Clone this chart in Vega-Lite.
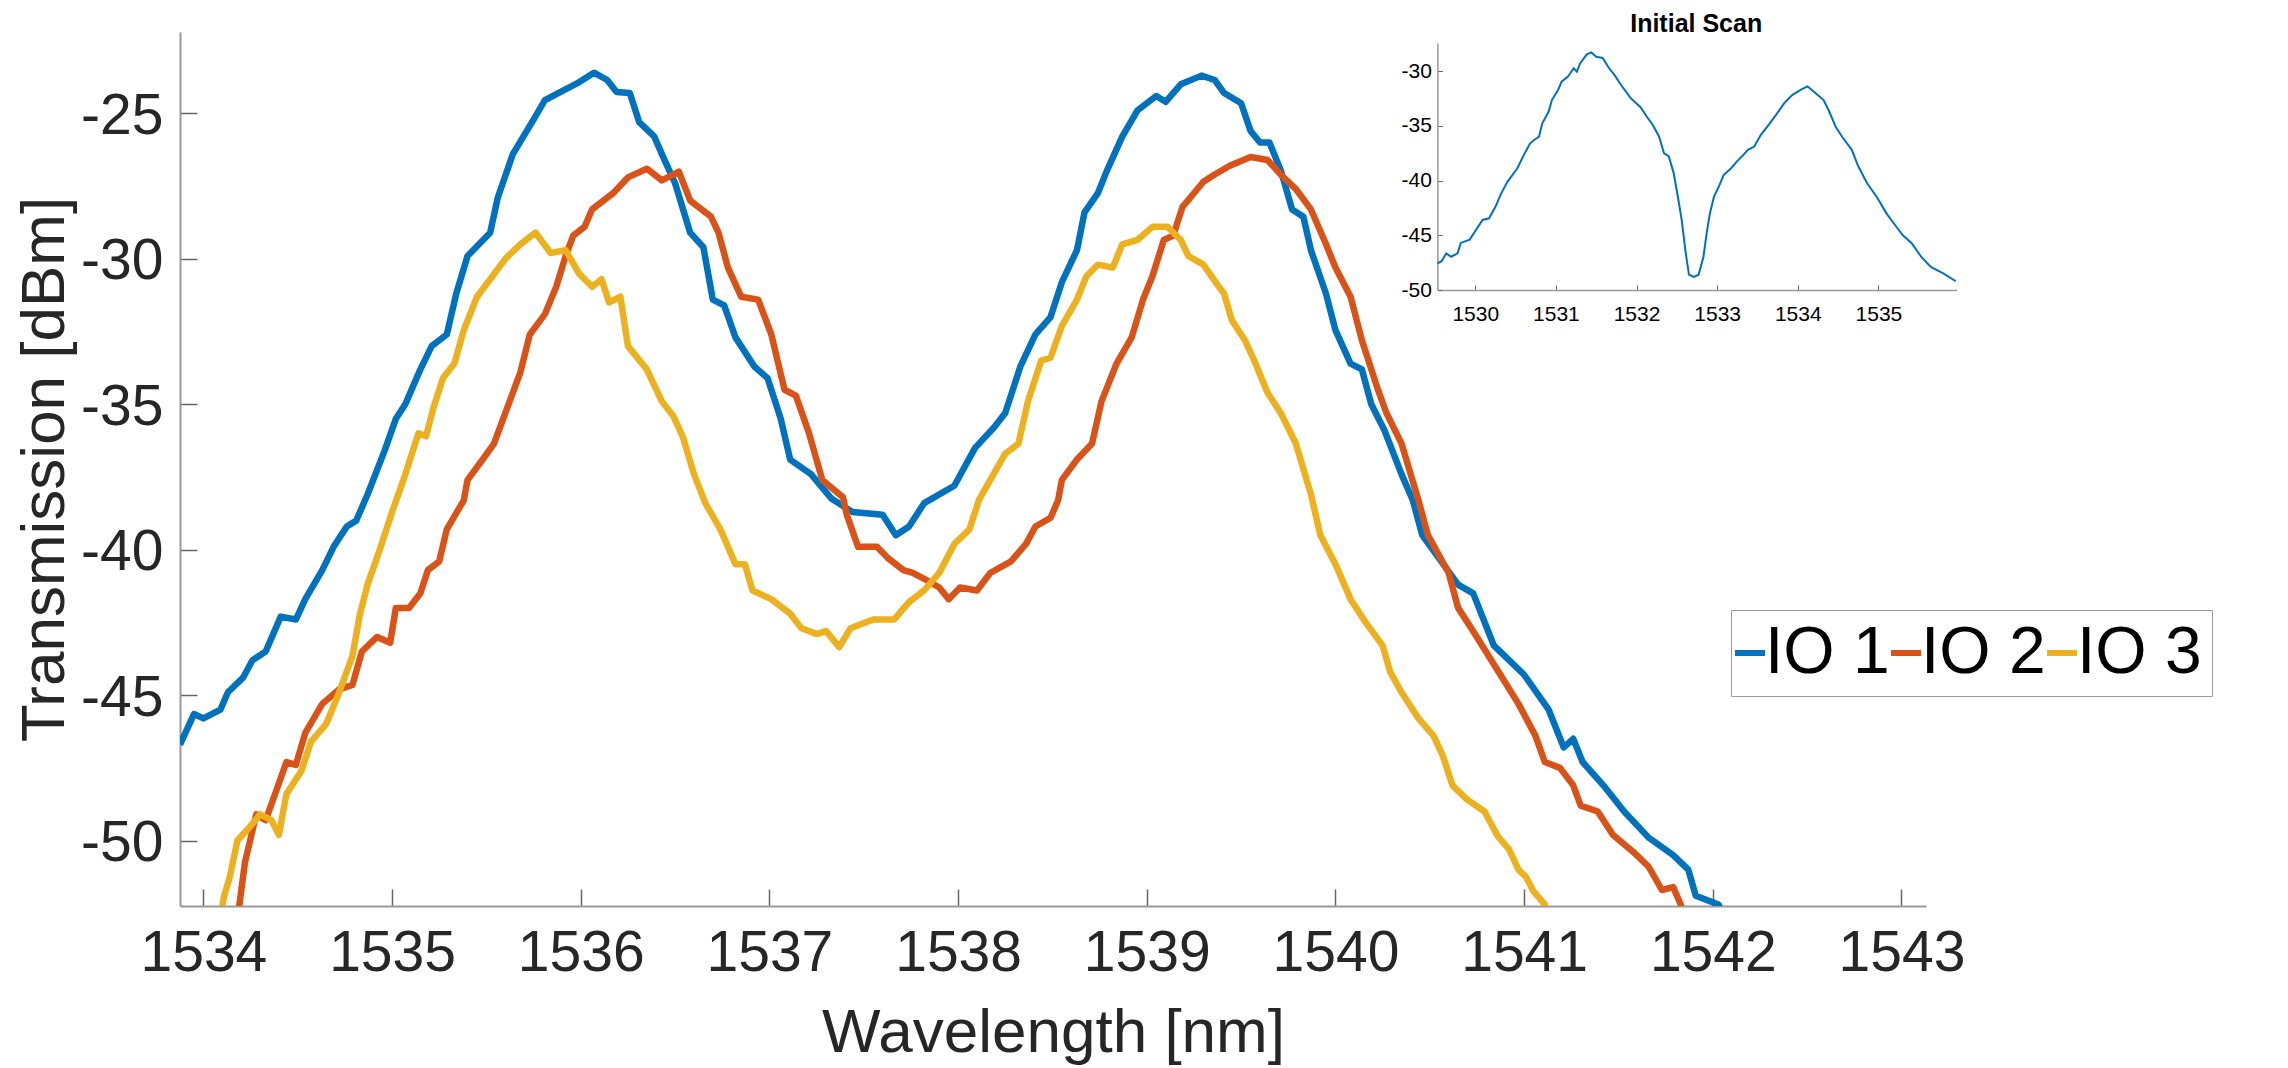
{
  "$schema": "https://vega.github.io/schema/vega-lite/v6.json",
  "width": 1746,
  "height": 874,
  "autosize": {"type": "none"},
  "padding": {"left": 180, "top": 32, "right": 362, "bottom": 162},
  "background": "white",
  "config": {"font": "Liberation Sans", "view": {"stroke": null}, "axis": {"grid": false}},
  "datasets": {
    "main": [
      {"s":"IO 1","wl":1533.876,"db":-46.7},{"s":"IO 1","wl":1533.95,"db":-45.65},{"s":"IO 1","wl":1534.0,"db":-45.8},{"s":"IO 1","wl":1534.09,"db":-45.5},{"s":"IO 1","wl":1534.13,"db":-44.9},{"s":"IO 1","wl":1534.21,"db":-44.4},{"s":"IO 1","wl":1534.26,"db":-43.8},{"s":"IO 1","wl":1534.33,"db":-43.5},{"s":"IO 1","wl":1534.41,"db":-42.3},{"s":"IO 1","wl":1534.49,"db":-42.4},{"s":"IO 1","wl":1534.54,"db":-41.7},{"s":"IO 1","wl":1534.63,"db":-40.7},{"s":"IO 1","wl":1534.69,"db":-39.9},{"s":"IO 1","wl":1534.76,"db":-39.2},{"s":"IO 1","wl":1534.81,"db":-39.0},{"s":"IO 1","wl":1534.87,"db":-38.1},{"s":"IO 1","wl":1534.96,"db":-36.6},{"s":"IO 1","wl":1535.02,"db":-35.5},{"s":"IO 1","wl":1535.07,"db":-35.0},{"s":"IO 1","wl":1535.15,"db":-33.8},{"s":"IO 1","wl":1535.21,"db":-33.0},{"s":"IO 1","wl":1535.29,"db":-32.6},{"s":"IO 1","wl":1535.34,"db":-31.2},{"s":"IO 1","wl":1535.40,"db":-29.9},{"s":"IO 1","wl":1535.52,"db":-29.1},{"s":"IO 1","wl":1535.56,"db":-27.9},{"s":"IO 1","wl":1535.64,"db":-26.4},{"s":"IO 1","wl":1535.76,"db":-25.1},{"s":"IO 1","wl":1535.81,"db":-24.54},{"s":"IO 1","wl":1535.98,"db":-23.97},{"s":"IO 1","wl":1536.07,"db":-23.6},{"s":"IO 1","wl":1536.14,"db":-23.85},{"s":"IO 1","wl":1536.19,"db":-24.26},{"s":"IO 1","wl":1536.26,"db":-24.3},{"s":"IO 1","wl":1536.31,"db":-25.3},{"s":"IO 1","wl":1536.39,"db":-25.8},{"s":"IO 1","wl":1536.43,"db":-26.4},{"s":"IO 1","wl":1536.50,"db":-27.4},{"s":"IO 1","wl":1536.58,"db":-29.1},{"s":"IO 1","wl":1536.65,"db":-29.6},{"s":"IO 1","wl":1536.70,"db":-31.4},{"s":"IO 1","wl":1536.76,"db":-31.6},{"s":"IO 1","wl":1536.82,"db":-32.7},{"s":"IO 1","wl":1536.92,"db":-33.7},{"s":"IO 1","wl":1536.99,"db":-34.1},{"s":"IO 1","wl":1537.06,"db":-35.5},{"s":"IO 1","wl":1537.11,"db":-36.9},{"s":"IO 1","wl":1537.22,"db":-37.4},{"s":"IO 1","wl":1537.33,"db":-38.25},{"s":"IO 1","wl":1537.44,"db":-38.7},{"s":"IO 1","wl":1537.60,"db":-38.8},{"s":"IO 1","wl":1537.67,"db":-39.5},{"s":"IO 1","wl":1537.74,"db":-39.2},{"s":"IO 1","wl":1537.82,"db":-38.4},{"s":"IO 1","wl":1537.98,"db":-37.8},{"s":"IO 1","wl":1538.09,"db":-36.5},{"s":"IO 1","wl":1538.19,"db":-35.8},{"s":"IO 1","wl":1538.25,"db":-35.3},{"s":"IO 1","wl":1538.33,"db":-33.7},{"s":"IO 1","wl":1538.41,"db":-32.6},{"s":"IO 1","wl":1538.49,"db":-32.0},{"s":"IO 1","wl":1538.55,"db":-30.8},{"s":"IO 1","wl":1538.63,"db":-29.7},{"s":"IO 1","wl":1538.67,"db":-28.4},{"s":"IO 1","wl":1538.74,"db":-27.75},{"s":"IO 1","wl":1538.79,"db":-26.95},{"s":"IO 1","wl":1538.87,"db":-25.8},{"s":"IO 1","wl":1538.95,"db":-24.9},{"s":"IO 1","wl":1539.05,"db":-24.4},{"s":"IO 1","wl":1539.10,"db":-24.6},{"s":"IO 1","wl":1539.18,"db":-24.0},{"s":"IO 1","wl":1539.29,"db":-23.7},{"s":"IO 1","wl":1539.36,"db":-23.85},{"s":"IO 1","wl":1539.41,"db":-24.3},{"s":"IO 1","wl":1539.50,"db":-24.65},{"s":"IO 1","wl":1539.55,"db":-25.6},{"s":"IO 1","wl":1539.60,"db":-26.0},{"s":"IO 1","wl":1539.65,"db":-26.0},{"s":"IO 1","wl":1539.71,"db":-26.95},{"s":"IO 1","wl":1539.77,"db":-28.3},{"s":"IO 1","wl":1539.83,"db":-28.55},{"s":"IO 1","wl":1539.87,"db":-29.7},{"s":"IO 1","wl":1539.95,"db":-31.2},{"s":"IO 1","wl":1540.00,"db":-32.45},{"s":"IO 1","wl":1540.08,"db":-33.6},{"s":"IO 1","wl":1540.14,"db":-33.8},{"s":"IO 1","wl":1540.19,"db":-35.0},{"s":"IO 1","wl":1540.26,"db":-35.9},{"s":"IO 1","wl":1540.35,"db":-37.4},{"s":"IO 1","wl":1540.41,"db":-38.3},{"s":"IO 1","wl":1540.46,"db":-39.5},{"s":"IO 1","wl":1540.65,"db":-41.2},{"s":"IO 1","wl":1540.73,"db":-41.5},{"s":"IO 1","wl":1540.84,"db":-43.3},{"s":"IO 1","wl":1541.0,"db":-44.3},{"s":"IO 1","wl":1541.13,"db":-45.5},{"s":"IO 1","wl":1541.21,"db":-46.8},{"s":"IO 1","wl":1541.26,"db":-46.5},{"s":"IO 1","wl":1541.31,"db":-47.3},{"s":"IO 1","wl":1541.42,"db":-48.1},{"s":"IO 1","wl":1541.53,"db":-49.0},{"s":"IO 1","wl":1541.66,"db":-49.9},{"s":"IO 1","wl":1541.79,"db":-50.5},{"s":"IO 1","wl":1541.87,"db":-51.0},{"s":"IO 1","wl":1541.91,"db":-51.9},{"s":"IO 1","wl":1542.03,"db":-52.2},{"s":"IO 1","wl":1542.06,"db":-52.6},
      {"s":"IO 2","wl":1534.17,"db":-53.0},{"s":"IO 2","wl":1534.19,"db":-52.25},{"s":"IO 2","wl":1534.22,"db":-50.76},{"s":"IO 2","wl":1534.28,"db":-49.1},{"s":"IO 2","wl":1534.33,"db":-49.3},{"s":"IO 2","wl":1534.38,"db":-48.4},{"s":"IO 2","wl":1534.44,"db":-47.3},{"s":"IO 2","wl":1534.49,"db":-47.4},{"s":"IO 2","wl":1534.54,"db":-46.3},{"s":"IO 2","wl":1534.63,"db":-45.3},{"s":"IO 2","wl":1534.72,"db":-44.8},{"s":"IO 2","wl":1534.79,"db":-44.65},{"s":"IO 2","wl":1534.84,"db":-43.5},{"s":"IO 2","wl":1534.92,"db":-43.0},{"s":"IO 2","wl":1534.99,"db":-43.2},{"s":"IO 2","wl":1535.02,"db":-42.0},{"s":"IO 2","wl":1535.09,"db":-42.0},{"s":"IO 2","wl":1535.15,"db":-41.5},{"s":"IO 2","wl":1535.19,"db":-40.7},{"s":"IO 2","wl":1535.25,"db":-40.4},{"s":"IO 2","wl":1535.29,"db":-39.3},{"s":"IO 2","wl":1535.38,"db":-38.3},{"s":"IO 2","wl":1535.40,"db":-37.6},{"s":"IO 2","wl":1535.48,"db":-36.9},{"s":"IO 2","wl":1535.54,"db":-36.35},{"s":"IO 2","wl":1535.60,"db":-35.3},{"s":"IO 2","wl":1535.68,"db":-33.9},{"s":"IO 2","wl":1535.73,"db":-32.6},{"s":"IO 2","wl":1535.81,"db":-31.9},{"s":"IO 2","wl":1535.87,"db":-30.96},{"s":"IO 2","wl":1535.92,"db":-29.9},{"s":"IO 2","wl":1535.96,"db":-29.2},{"s":"IO 2","wl":1536.02,"db":-28.9},{"s":"IO 2","wl":1536.06,"db":-28.3},{"s":"IO 2","wl":1536.17,"db":-27.75},{"s":"IO 2","wl":1536.25,"db":-27.2},{"s":"IO 2","wl":1536.35,"db":-26.9},{"s":"IO 2","wl":1536.43,"db":-27.3},{"s":"IO 2","wl":1536.52,"db":-27.0},{"s":"IO 2","wl":1536.58,"db":-28.0},{"s":"IO 2","wl":1536.69,"db":-28.55},{"s":"IO 2","wl":1536.73,"db":-29.1},{"s":"IO 2","wl":1536.78,"db":-30.3},{"s":"IO 2","wl":1536.85,"db":-31.3},{"s":"IO 2","wl":1536.94,"db":-31.4},{"s":"IO 2","wl":1537.01,"db":-32.6},{"s":"IO 2","wl":1537.08,"db":-34.5},{"s":"IO 2","wl":1537.14,"db":-34.7},{"s":"IO 2","wl":1537.21,"db":-36.0},{"s":"IO 2","wl":1537.28,"db":-37.6},{"s":"IO 2","wl":1537.39,"db":-38.2},{"s":"IO 2","wl":1537.41,"db":-38.8},{"s":"IO 2","wl":1537.47,"db":-39.9},{"s":"IO 2","wl":1537.57,"db":-39.9},{"s":"IO 2","wl":1537.63,"db":-40.3},{"s":"IO 2","wl":1537.71,"db":-40.7},{"s":"IO 2","wl":1537.76,"db":-40.8},{"s":"IO 2","wl":1537.82,"db":-41.0},{"s":"IO 2","wl":1537.90,"db":-41.3},{"s":"IO 2","wl":1537.95,"db":-41.7},{"s":"IO 2","wl":1538.01,"db":-41.3},{"s":"IO 2","wl":1538.10,"db":-41.4},{"s":"IO 2","wl":1538.17,"db":-40.8},{"s":"IO 2","wl":1538.28,"db":-40.4},{"s":"IO 2","wl":1538.36,"db":-39.8},{"s":"IO 2","wl":1538.41,"db":-39.2},{"s":"IO 2","wl":1538.49,"db":-38.9},{"s":"IO 2","wl":1538.53,"db":-38.3},{"s":"IO 2","wl":1538.55,"db":-37.6},{"s":"IO 2","wl":1538.63,"db":-36.9},{"s":"IO 2","wl":1538.71,"db":-36.35},{"s":"IO 2","wl":1538.76,"db":-34.9},{"s":"IO 2","wl":1538.84,"db":-33.6},{"s":"IO 2","wl":1538.92,"db":-32.7},{"s":"IO 2","wl":1538.98,"db":-31.4},{"s":"IO 2","wl":1539.03,"db":-30.6},{"s":"IO 2","wl":1539.09,"db":-29.35},{"s":"IO 2","wl":1539.14,"db":-29.2},{"s":"IO 2","wl":1539.19,"db":-28.2},{"s":"IO 2","wl":1539.23,"db":-27.9},{"s":"IO 2","wl":1539.30,"db":-27.35},{"s":"IO 2","wl":1539.36,"db":-27.1},{"s":"IO 2","wl":1539.44,"db":-26.8},{"s":"IO 2","wl":1539.55,"db":-26.5},{"s":"IO 2","wl":1539.64,"db":-26.6},{"s":"IO 2","wl":1539.71,"db":-27.1},{"s":"IO 2","wl":1539.79,"db":-27.6},{"s":"IO 2","wl":1539.87,"db":-28.3},{"s":"IO 2","wl":1539.95,"db":-29.5},{"s":"IO 2","wl":1540.00,"db":-30.3},{"s":"IO 2","wl":1540.08,"db":-31.3},{"s":"IO 2","wl":1540.14,"db":-32.8},{"s":"IO 2","wl":1540.22,"db":-34.4},{"s":"IO 2","wl":1540.27,"db":-35.3},{"s":"IO 2","wl":1540.35,"db":-36.35},{"s":"IO 2","wl":1540.44,"db":-38.3},{"s":"IO 2","wl":1540.49,"db":-39.5},{"s":"IO 2","wl":1540.60,"db":-40.8},{"s":"IO 2","wl":1540.65,"db":-42.0},{"s":"IO 2","wl":1540.73,"db":-42.8},{"s":"IO 2","wl":1540.86,"db":-44.15},{"s":"IO 2","wl":1540.97,"db":-45.3},{"s":"IO 2","wl":1541.06,"db":-46.4},{"s":"IO 2","wl":1541.11,"db":-47.3},{"s":"IO 2","wl":1541.19,"db":-47.5},{"s":"IO 2","wl":1541.26,"db":-48.1},{"s":"IO 2","wl":1541.30,"db":-48.8},{"s":"IO 2","wl":1541.39,"db":-49.0},{"s":"IO 2","wl":1541.47,"db":-49.8},{"s":"IO 2","wl":1541.58,"db":-50.4},{"s":"IO 2","wl":1541.66,"db":-50.9},{"s":"IO 2","wl":1541.73,"db":-51.7},{"s":"IO 2","wl":1541.79,"db":-51.6},{"s":"IO 2","wl":1541.83,"db":-52.2},{"s":"IO 2","wl":1541.85,"db":-52.8},
      {"s":"IO 3","wl":1534.09,"db":-53.0},{"s":"IO 3","wl":1534.10,"db":-52.25},{"s":"IO 3","wl":1534.11,"db":-51.9},{"s":"IO 3","wl":1534.14,"db":-51.25},{"s":"IO 3","wl":1534.18,"db":-50.0},{"s":"IO 3","wl":1534.25,"db":-49.5},{"s":"IO 3","wl":1534.30,"db":-49.1},{"s":"IO 3","wl":1534.36,"db":-49.3},{"s":"IO 3","wl":1534.40,"db":-49.8},{"s":"IO 3","wl":1534.44,"db":-48.4},{"s":"IO 3","wl":1534.52,"db":-47.6},{"s":"IO 3","wl":1534.57,"db":-46.6},{"s":"IO 3","wl":1534.65,"db":-46.0},{"s":"IO 3","wl":1534.72,"db":-44.9},{"s":"IO 3","wl":1534.79,"db":-43.65},{"s":"IO 3","wl":1534.83,"db":-42.2},{"s":"IO 3","wl":1534.87,"db":-41.2},{"s":"IO 3","wl":1534.94,"db":-39.9},{"s":"IO 3","wl":1535.00,"db":-38.7},{"s":"IO 3","wl":1535.06,"db":-37.6},{"s":"IO 3","wl":1535.14,"db":-36.0},{"s":"IO 3","wl":1535.18,"db":-36.1},{"s":"IO 3","wl":1535.22,"db":-35.1},{"s":"IO 3","wl":1535.27,"db":-34.1},{"s":"IO 3","wl":1535.33,"db":-33.6},{"s":"IO 3","wl":1535.38,"db":-32.45},{"s":"IO 3","wl":1535.45,"db":-31.3},{"s":"IO 3","wl":1535.52,"db":-30.7},{"s":"IO 3","wl":1535.60,"db":-30.0},{"s":"IO 3","wl":1535.68,"db":-29.5},{"s":"IO 3","wl":1535.76,"db":-29.1},{"s":"IO 3","wl":1535.84,"db":-29.8},{"s":"IO 3","wl":1535.92,"db":-29.7},{"s":"IO 3","wl":1535.99,"db":-30.5},{"s":"IO 3","wl":1536.06,"db":-30.96},{"s":"IO 3","wl":1536.11,"db":-30.7},{"s":"IO 3","wl":1536.15,"db":-31.5},{"s":"IO 3","wl":1536.21,"db":-31.3},{"s":"IO 3","wl":1536.25,"db":-33.0},{"s":"IO 3","wl":1536.35,"db":-33.8},{"s":"IO 3","wl":1536.43,"db":-34.9},{"s":"IO 3","wl":1536.49,"db":-35.4},{"s":"IO 3","wl":1536.54,"db":-36.1},{"s":"IO 3","wl":1536.60,"db":-37.4},{"s":"IO 3","wl":1536.66,"db":-38.4},{"s":"IO 3","wl":1536.74,"db":-39.3},{"s":"IO 3","wl":1536.82,"db":-40.5},{"s":"IO 3","wl":1536.87,"db":-40.5},{"s":"IO 3","wl":1536.91,"db":-41.4},{"s":"IO 3","wl":1537.01,"db":-41.7},{"s":"IO 3","wl":1537.11,"db":-42.2},{"s":"IO 3","wl":1537.17,"db":-42.7},{"s":"IO 3","wl":1537.25,"db":-42.9},{"s":"IO 3","wl":1537.30,"db":-42.8},{"s":"IO 3","wl":1537.37,"db":-43.35},{"s":"IO 3","wl":1537.43,"db":-42.7},{"s":"IO 3","wl":1537.55,"db":-42.4},{"s":"IO 3","wl":1537.66,"db":-42.4},{"s":"IO 3","wl":1537.74,"db":-41.8},{"s":"IO 3","wl":1537.82,"db":-41.4},{"s":"IO 3","wl":1537.90,"db":-40.8},{"s":"IO 3","wl":1537.98,"db":-39.8},{"s":"IO 3","wl":1538.06,"db":-39.3},{"s":"IO 3","wl":1538.11,"db":-38.3},{"s":"IO 3","wl":1538.14,"db":-37.95},{"s":"IO 3","wl":1538.25,"db":-36.7},{"s":"IO 3","wl":1538.32,"db":-36.35},{"s":"IO 3","wl":1538.37,"db":-34.9},{"s":"IO 3","wl":1538.44,"db":-33.5},{"s":"IO 3","wl":1538.49,"db":-33.4},{"s":"IO 3","wl":1538.55,"db":-32.3},{"s":"IO 3","wl":1538.63,"db":-31.4},{"s":"IO 3","wl":1538.68,"db":-30.6},{"s":"IO 3","wl":1538.74,"db":-30.2},{"s":"IO 3","wl":1538.82,"db":-30.3},{"s":"IO 3","wl":1538.87,"db":-29.5},{"s":"IO 3","wl":1538.95,"db":-29.35},{"s":"IO 3","wl":1539.03,"db":-28.9},{"s":"IO 3","wl":1539.11,"db":-28.9},{"s":"IO 3","wl":1539.18,"db":-29.35},{"s":"IO 3","wl":1539.22,"db":-29.9},{"s":"IO 3","wl":1539.30,"db":-30.2},{"s":"IO 3","wl":1539.37,"db":-30.85},{"s":"IO 3","wl":1539.41,"db":-31.2},{"s":"IO 3","wl":1539.45,"db":-32.1},{"s":"IO 3","wl":1539.52,"db":-32.8},{"s":"IO 3","wl":1539.57,"db":-33.5},{"s":"IO 3","wl":1539.64,"db":-34.6},{"s":"IO 3","wl":1539.71,"db":-35.3},{"s":"IO 3","wl":1539.79,"db":-36.35},{"s":"IO 3","wl":1539.87,"db":-38.1},{"s":"IO 3","wl":1539.92,"db":-39.5},{"s":"IO 3","wl":1540.00,"db":-40.5},{"s":"IO 3","wl":1540.08,"db":-41.7},{"s":"IO 3","wl":1540.16,"db":-42.5},{"s":"IO 3","wl":1540.25,"db":-43.3},{"s":"IO 3","wl":1540.29,"db":-44.2},{"s":"IO 3","wl":1540.35,"db":-44.9},{"s":"IO 3","wl":1540.44,"db":-45.8},{"s":"IO 3","wl":1540.52,"db":-46.4},{"s":"IO 3","wl":1540.57,"db":-47.1},{"s":"IO 3","wl":1540.62,"db":-48.1},{"s":"IO 3","wl":1540.70,"db":-48.6},{"s":"IO 3","wl":1540.79,"db":-49.0},{"s":"IO 3","wl":1540.86,"db":-49.85},{"s":"IO 3","wl":1540.92,"db":-50.3},{"s":"IO 3","wl":1540.97,"db":-51.0},{"s":"IO 3","wl":1541.01,"db":-51.25},{"s":"IO 3","wl":1541.05,"db":-51.75},{"s":"IO 3","wl":1541.11,"db":-52.2},{"s":"IO 3","wl":1541.13,"db":-52.8}
    ],
    "inset": [
      {"wl":1529.53,"db":-47.56},{"wl":1529.58,"db":-47.4},{"wl":1529.64,"db":-46.65},{"wl":1529.70,"db":-46.96},{"wl":1529.78,"db":-46.65},{"wl":1529.82,"db":-45.7},{"wl":1529.93,"db":-45.4},{"wl":1530.01,"db":-44.5},{"wl":1530.09,"db":-43.6},{"wl":1530.17,"db":-43.45},{"wl":1530.25,"db":-42.4},{"wl":1530.32,"db":-41.2},{"wl":1530.40,"db":-40.1},{"wl":1530.52,"db":-38.9},{"wl":1530.60,"db":-37.7},{"wl":1530.68,"db":-36.6},{"wl":1530.73,"db":-36.3},{"wl":1530.79,"db":-36.0},{"wl":1530.83,"db":-34.8},{"wl":1530.91,"db":-33.7},{"wl":1530.95,"db":-32.65},{"wl":1531.03,"db":-31.7},{"wl":1531.07,"db":-30.97},{"wl":1531.15,"db":-30.5},{"wl":1531.22,"db":-29.75},{"wl":1531.26,"db":-30.06},{"wl":1531.30,"db":-29.3},{"wl":1531.38,"db":-28.5},{"wl":1531.44,"db":-28.3},{"wl":1531.50,"db":-28.7},{"wl":1531.58,"db":-28.8},{"wl":1531.66,"db":-29.75},{"wl":1531.73,"db":-30.4},{"wl":1531.81,"db":-31.3},{"wl":1531.93,"db":-32.5},{"wl":1532.05,"db":-33.3},{"wl":1532.13,"db":-34.2},{"wl":1532.20,"db":-34.9},{"wl":1532.28,"db":-36.0},{"wl":1532.34,"db":-37.5},{"wl":1532.40,"db":-37.8},{"wl":1532.46,"db":-39.3},{"wl":1532.52,"db":-41.8},{"wl":1532.56,"db":-43.6},{"wl":1532.61,"db":-46.6},{"wl":1532.65,"db":-48.6},{"wl":1532.71,"db":-48.8},{"wl":1532.77,"db":-48.6},{"wl":1532.83,"db":-46.96},{"wl":1532.87,"db":-44.8},{"wl":1532.91,"db":-43.0},{"wl":1532.96,"db":-41.5},{"wl":1533.03,"db":-40.4},{"wl":1533.08,"db":-39.5},{"wl":1533.17,"db":-38.9},{"wl":1533.24,"db":-38.3},{"wl":1533.32,"db":-37.7},{"wl":1533.38,"db":-37.2},{"wl":1533.46,"db":-36.9},{"wl":1533.54,"db":-35.85},{"wl":1533.65,"db":-34.8},{"wl":1533.73,"db":-34.0},{"wl":1533.83,"db":-32.95},{"wl":1533.93,"db":-32.2},{"wl":1534.04,"db":-31.7},{"wl":1534.12,"db":-31.4},{"wl":1534.20,"db":-31.9},{"wl":1534.32,"db":-32.65},{"wl":1534.39,"db":-33.7},{"wl":1534.47,"db":-35.1},{"wl":1534.55,"db":-36.0},{"wl":1534.67,"db":-37.2},{"wl":1534.75,"db":-38.7},{"wl":1534.86,"db":-40.25},{"wl":1534.98,"db":-41.5},{"wl":1535.10,"db":-43.0},{"wl":1535.22,"db":-44.2},{"wl":1535.30,"db":-44.98},{"wl":1535.41,"db":-45.7},{"wl":1535.53,"db":-46.96},{"wl":1535.65,"db":-47.9},{"wl":1535.81,"db":-48.5},{"wl":1535.96,"db":-49.2}
    ],
    "insetTitle": [{"label": "Initial Scan"}]
  },
  "layer": [
    {
      "data": {"name": "main"},
      "mark": {"type": "line", "strokeWidth": 6.5, "clip": true, "strokeJoin": "round"},
      "encoding": {
        "x": {
          "field": "wl", "type": "quantitative",
          "scale": {"domain": [1533.876, 1543.13], "nice": false, "zero": false},
          "axis": {
            "values": [1534, 1535, 1536, 1537, 1538, 1539, 1540, 1541, 1542, 1543],
            "labelExpr": "'' + datum.value",
            "title": "Wavelength [nm]",
            "tickSize": -17, "labelPadding": 36,
            "labelFontSize": 57, "titleFontSize": 62, "titleFontWeight": "normal", "titlePadding": 21,
            "labelColor": "#262626", "titleColor": "#262626",
            "domainColor": "#999999", "domainWidth": 2, "tickColor": "#666666", "tickWidth": 1.5,
            "labelFlush": false, "labelOverlap": false, "grid": false
          }
        },
        "y": {
          "field": "db", "type": "quantitative",
          "scale": {"domain": [-52.25, -22.2], "nice": false, "zero": false},
          "axis": {
            "values": [-50, -45, -40, -35, -30, -25],
            "labelExpr": "'' + datum.value",
            "title": "Transmission [dBm]",
            "tickSize": -17, "labelPadding": 34, "labelOffset": 3,
            "labelFontSize": 57, "titleFontSize": 62, "titleFontWeight": "normal", "titlePadding": 4,
            "labelColor": "#262626", "titleColor": "#262626",
            "domainColor": "#999999", "domainWidth": 2, "tickColor": "#666666", "tickWidth": 1.5,
            "labelFlush": false, "labelOverlap": false, "grid": false
          }
        },
        "color": {
          "field": "s", "type": "nominal",
          "scale": {"domain": ["IO 1", "IO 2", "IO 3"], "range": ["#0072BD", "#D95319", "#EDB120"]},
          "legend": {
            "orient": "none", "legendX": 1551, "legendY": 578, "direction": "horizontal", "title": null,
            "symbolType": "stroke", "symbolSize": 900, "symbolStrokeWidth": 6, "symbolOffset": -24,
            "labelFont": "Liberation Sans", "labelFontSize": 66, "labelColor": "#000000", "labelOffset": -18, "labelLimit": 0,
            "strokeColor": "#999999", "fillColor": "#ffffff", "padding": 10, "columnPadding": -11
          }
        }
      }
    },
    {
      "layer": [
        {
          "data": {"name": "inset"},
          "mark": {"type": "line", "strokeWidth": 2, "color": "#0072BD"},
          "encoding": {
            "x": {
              "field": "wl", "type": "quantitative",
              "scale": {"domain": [1529.53, 1535.97], "range": [1257.4, 1776.6], "nice": false, "zero": false},
              "axis": {
                "orient": "bottom", "offset": -616,
                "values": [1530, 1531, 1532, 1533, 1534, 1535],
                "labelExpr": "'' + datum.value", "title": null,
                "tickSize": -5, "labelPadding": 18, "labelFontSize": 21, "labelColor": "#000000",
                "domainColor": "#999999", "domainWidth": 1.5, "tickColor": "#666666", "tickWidth": 1,
                "labelFlush": false, "labelOverlap": false, "grid": false
              }
            },
            "y": {
              "field": "db", "type": "quantitative",
              "scale": {"domain": [-50, -27.44], "range": [258, 11], "nice": false, "zero": false},
              "axis": {
                "orient": "left", "offset": -1257.4,
                "values": [-50, -45, -40, -35, -30],
                "labelExpr": "'' + datum.value", "title": null,
                "tickSize": -5, "labelPadding": 11, "labelFontSize": 21, "labelColor": "#000000",
                "domainColor": "#999999", "domainWidth": 1.5, "tickColor": "#666666", "tickWidth": 1,
                "labelFlush": false, "labelOverlap": false, "grid": false
              }
            }
          }
        },
        {
          "data": {"name": "insetTitle"},
          "mark": {"type": "text", "fontSize": 25, "fontWeight": "bold", "align": "center", "baseline": "alphabetic", "color": "#000000"},
          "encoding": {
            "x": {"datum": 1532.74, "type": "quantitative", "scale": {"domain": [1529.53, 1535.97], "range": [1257.4, 1776.6], "nice": false, "zero": false}},
            "y": {"datum": -26.46, "type": "quantitative", "scale": {"domain": [-50, -27.44], "range": [258, 11], "nice": false, "zero": false}},
            "text": {"field": "label"}
          }
        }
      ]
    }
  ],
  "resolve": {"scale": {"x": "independent", "y": "independent"}}
}
